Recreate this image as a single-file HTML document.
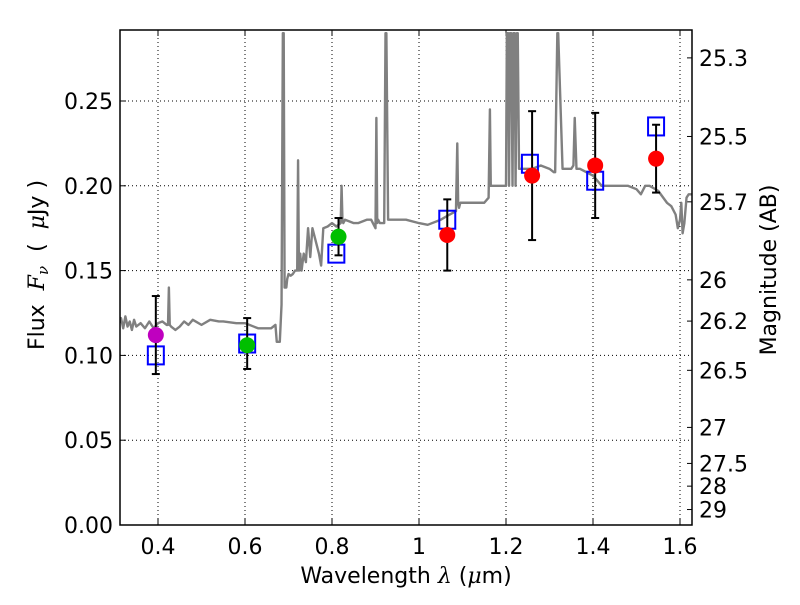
<!DOCTYPE html>
<html><head><meta charset="utf-8"><style>
body{margin:0;background:#fff;width:800px;height:600px;overflow:hidden;font-family:"Liberation Sans","DejaVu Sans",sans-serif}
svg text{font-family:"DejaVu Sans","Liberation Sans",sans-serif}
</style></head><body>
<svg id="c" width="800" height="600"></svg>
<script>
const specWave=[0.31,0.315,0.32,0.325,0.33,0.335,0.34,0.345,0.35,0.36,0.37,0.38,0.39,0.40,0.41,0.42,0.423,0.425,0.427,0.43,0.44,0.45,0.46,0.47,0.48,0.5,0.52,0.54,0.55,0.58,0.6,0.62,0.63,0.66,0.67,0.673,0.68,0.684,0.687,0.689,0.691,0.695,0.697,0.70,0.705,0.71,0.715,0.72,0.722,0.724,0.727,0.73,0.735,0.74,0.745,0.75,0.755,0.76,0.765,0.77,0.775,0.78,0.79,0.80,0.81,0.82,0.822,0.824,0.826,0.83,0.85,0.86,0.88,0.89,0.9,0.902,0.904,0.906,0.91,0.92,0.923,0.925,0.929,0.932,0.935,0.94,0.97,1.0,1.02,1.05,1.07,1.085,1.088,1.09,1.092,1.095,1.12,1.14,1.15,1.16,1.163,1.165,1.167,1.17,1.18,1.2,1.202,1.205,1.207,1.209,1.212,1.215,1.217,1.22,1.222,1.225,1.227,1.23,1.24,1.26,1.28,1.3,1.31,1.313,1.318,1.32,1.33,1.35,1.355,1.358,1.362,1.37,1.4,1.42,1.43,1.45,1.48,1.5,1.51,1.52,1.53,1.55,1.57,1.58,1.59,1.595,1.6,1.603,1.606,1.61,1.615,1.62,1.63];
const specFlux=[0.118,0.122,0.116,0.123,0.117,0.12,0.115,0.121,0.117,0.119,0.116,0.12,0.116,0.119,0.12,0.118,0.118,0.14,0.118,0.117,0.115,0.117,0.12,0.118,0.121,0.118,0.121,0.12,0.12,0.119,0.119,0.117,0.116,0.116,0.118,0.108,0.108,0.13,0.29,0.29,0.14,0.14,0.145,0.148,0.147,0.148,0.15,0.15,0.215,0.15,0.16,0.15,0.16,0.155,0.175,0.158,0.175,0.17,0.165,0.16,0.153,0.175,0.176,0.178,0.176,0.178,0.2,0.18,0.178,0.18,0.178,0.178,0.18,0.18,0.175,0.24,0.178,0.18,0.178,0.178,0.29,0.29,0.18,0.18,0.18,0.18,0.18,0.178,0.177,0.18,0.183,0.185,0.225,0.19,0.187,0.19,0.19,0.19,0.19,0.193,0.245,0.2,0.2,0.2,0.2,0.2,0.29,0.29,0.2,0.29,0.29,0.2,0.29,0.29,0.2,0.29,0.29,0.21,0.21,0.21,0.212,0.21,0.208,0.208,0.29,0.29,0.21,0.21,0.212,0.24,0.21,0.21,0.206,0.2,0.2,0.2,0.2,0.198,0.195,0.2,0.2,0.197,0.19,0.188,0.183,0.175,0.18,0.19,0.172,0.178,0.193,0.195,0.195,0.195];
const sqWave=[0.395,0.605,0.81,1.065,1.255,1.405,1.545];
const sqFlux=[0.100,0.107,0.160,0.180,0.213,0.203,0.235];
const ptWave=[0.395,0.605,0.815,1.065,1.26,1.405,1.545];
const ptFlux=[0.112,0.106,0.170,0.171,0.206,0.212,0.216];
const ptColor=['#bf00bf','#00bf00','#00bf00','#ff0000','#ff0000','#ff0000','#ff0000'];
const errLo=[0.089,0.092,0.159,0.150,0.168,0.181,0.196];
const errHi=[0.135,0.122,0.181,0.192,0.244,0.243,0.236];
const xTicks=[0.4,0.6,0.8,1,1.2,1.4,1.6];
const xTickLabels=['0.4','0.6','0.8','1','1.2','1.4','1.6'];
const yTicks=[0,0.05,0.1,0.15,0.2,0.25];
const yTickLabels=['0.00','0.05','0.10','0.15','0.20','0.25'];
const magTicks=[25.3,25.5,25.7,26,26.2,26.5,27,27.5,28,29];
const magTickLabels=['25.3','25.5','25.7','26','26.2','26.5','27','27.5','28','29'];

const L=120,R=692,T=30,B=525;
const X=v=>158+(v-0.4)*435;
const Y=v=>B-v*1696;
const svg=document.getElementById('c');
const NS='http://www.w3.org/2000/svg';
function mk(tag,at,parent){const e=document.createElementNS(NS,tag);for(const k in at)e.setAttribute(k,at[k]);(parent||svg).appendChild(e);return e;}
const defs=mk('defs',{});const cp=mk('clipPath',{id:'clip'},defs);mk('rect',{x:L,y:T,width:R-L,height:B-T},cp);
xTicks.forEach((t,i)=>{
 const g=mk('line',{x1:X(t),x2:X(t),y1:T,y2:B,stroke:'#000','stroke-width':1,'stroke-dasharray':'1,3'});
 
 
 mk('line',{x1:X(t),x2:X(t),y1:B,y2:B-6,stroke:'#000'});mk('line',{x1:X(t),x2:X(t),y1:T,y2:T+6,stroke:'#000'});
 const tx=mk('text',{x:X(t),y:B+29,'text-anchor':'middle','font-size':22});tx.textContent=xTickLabels[i];
 
 
});
yTicks.forEach((t,i)=>{
 if(t>0){const g=mk('line',{x1:L,x2:R,y1:Y(t),y2:Y(t),stroke:'#000','stroke-width':1,'stroke-dasharray':'1,3'});
 
 }
 mk('line',{x1:L,x2:L+6,y1:Y(t),y2:Y(t),stroke:'#000'});
 const tx=mk('text',{x:L-7,y:Y(t)+8,'text-anchor':'end','font-size':22});tx.textContent=yTickLabels[i];
 
 
});
magTicks.forEach((m,i)=>{
 const f=Math.pow(10,(23.9-m)/2.5);const y=Y(f);
 mk('line',{x1:R,x2:R-5,y1:y,y2:y,stroke:'#000'});
 const tx=mk('text',{x:R+7,y:y+8,'font-size':22});tx.textContent=magTickLabels[i];
 
 
});
const sp=mk('polyline',{points:specWave.map((w,i)=>X(w)+','+Y(specFlux[i])).join(' '),fill:'none',stroke:'#808080','stroke-width':2.4,'stroke-linejoin':'round','clip-path':'url(#clip)'});


sqWave.forEach((w,i)=>{
 const r=mk('rect',{x:X(w)-8,y:Y(sqFlux[i])-9,width:16,height:18,fill:'none',stroke:'#0000ff','stroke-width':2});
 
 
});
ptWave.forEach((w,i)=>{
 const x=X(w);
 const g=mk('g',{stroke:'#000','stroke-width':2});
 
 
 mk('line',{x1:x,x2:x,y1:Y(errLo[i]),y2:Y(errHi[i])},g);
 mk('line',{x1:x-4,x2:x+4,y1:Y(errLo[i]),y2:Y(errLo[i])},g);
 mk('line',{x1:x-4,x2:x+4,y1:Y(errHi[i]),y2:Y(errHi[i])},g);
});
ptWave.forEach((w,i)=>{
 const c=mk('circle',{cx:X(w),cy:Y(ptFlux[i]),r:8,fill:ptColor[i]});
 
 
});
const fr=mk('rect',{x:L,y:T,width:R-L,height:B-T,fill:'none',stroke:'#000','stroke-width':1.5});


</script>
<svg width="800" height="600" style="position:absolute;left:0;top:0">
<text x="406" y="583" text-anchor="middle" font-size="22" style="font-family:'DejaVu Sans',sans-serif">Wavelength  <tspan font-style="italic" font-family="DejaVu Serif">λ</tspan> (<tspan font-style="italic" font-family="DejaVu Serif">μ</tspan>m)</text>
<text transform="translate(44,265) rotate(-90)" text-anchor="middle" font-size="22" style="font-family:'DejaVu Sans',sans-serif" xml:space="preserve">Flux  <tspan font-style="italic" font-family="DejaVu Serif">F</tspan><tspan font-style="italic" font-family="DejaVu Serif" font-size="15" dy="4">ν</tspan><tspan dy="-4">  (  </tspan><tspan font-style="italic" font-family="DejaVu Serif">μ</tspan>Jy )</text>
<text transform="translate(776,270) rotate(-90)" text-anchor="middle" font-size="22" style="font-family:'DejaVu Sans',sans-serif">Magnitude (AB)</text>
</svg>
</body></html>
